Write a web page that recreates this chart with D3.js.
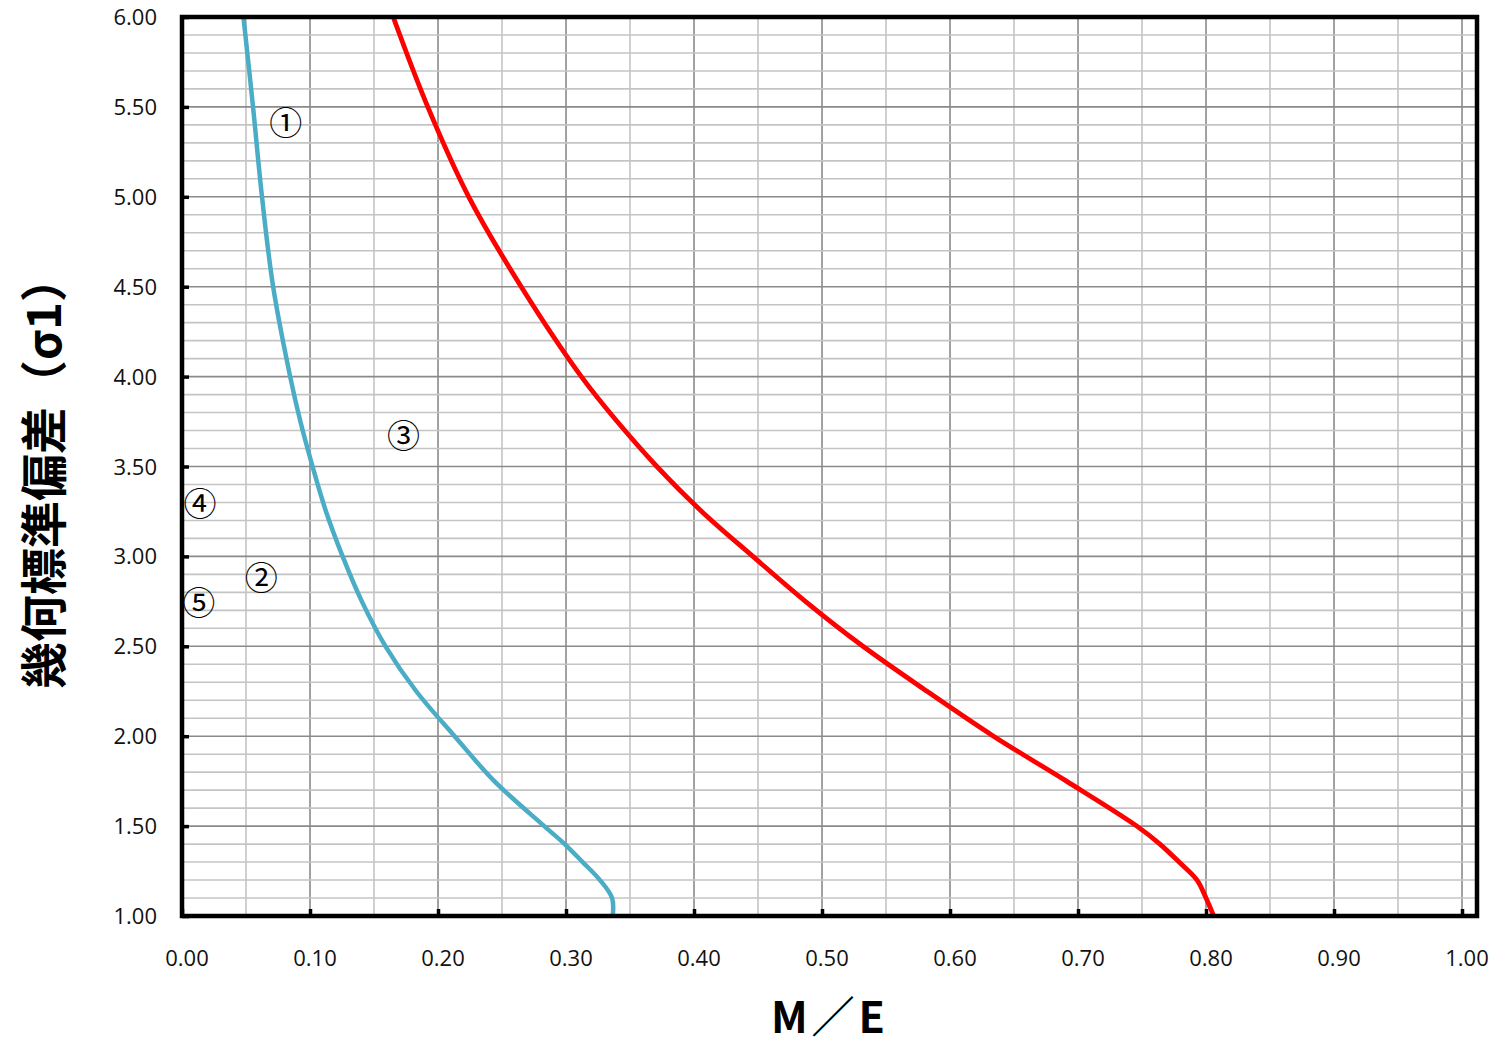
<!DOCTYPE html>
<html>
<head>
<meta charset="utf-8">
<script src="https://cdn.jsdelivr.net/npm/d3@7"></script>
<style>
  body { margin: 0; background: #fff; }
  text { font-family: "Open Sans", "Noto Sans", sans-serif; }
</style>
</head>
<body>
<svg id="chart" width="1499" height="1050"></svg>
<script>
// Data: sigma (geometric std. dev.) vs M/E
const sigma = [6.0, 5.5, 5.0, 4.5, 4.0, 3.75, 3.5, 3.25, 3.0, 2.75, 2.5, 2.25, 2.0, 1.75, 1.5, 1.4, 1.3, 1.2, 1.1, 1.0];
const curveBlue = [0.048, 0.0555, 0.0625, 0.0712, 0.0845, 0.0925, 0.102, 0.1125, 0.1255, 0.1405, 0.159, 0.183, 0.213, 0.244, 0.283, 0.299, 0.313, 0.3265, 0.336, 0.3365];
const curveRed = [0.165, 0.192, 0.224, 0.265, 0.312, 0.340, 0.371, 0.406, 0.446, 0.487, 0.532, 0.582, 0.634, 0.691, 0.746, 0.764, 0.779, 0.793, 0.800, 0.806];

// circled region labels (position in data units)
const regionLabels = ["①", "②", "③", "④", "⑤"];
const regionX = [0.081, 0.062, 0.173, 0.014, 0.013];
const regionY = [5.41, 2.88, 3.67, 3.29, 2.74];

const xTicks = d3.range(0, 1.0001, 0.1);
const yTicks = d3.range(1, 6.0001, 0.5);

const xTitle = "M／E";
const yTitle = "幾何標準偏差（σ1）";

// layout
const plotLeft = 182, plotTop = 17, plotBottom = 916, plotRight = 1477;
const xAt1 = 1462;

const svg = d3.select("#chart");

const x = d3.scaleLinear().domain([0, 1]).range([plotLeft, xAt1]);
const y = d3.scaleLinear().domain([1, 6]).range([plotBottom, plotTop]);

// grid
const grid = svg.append("g");
const vLines = d3.range(1, 21).map(i => i * 0.05);
grid.selectAll("line.v")
    .data(vLines)
    .join("line")
    .attr("class", "v")
    .attr("x1", d => x(d)).attr("x2", d => x(d))
    .attr("y1", plotTop).attr("y2", plotBottom)
    .attr("stroke", (d, i) => (i % 2 === 1) ? "#8a8a8a" : "#c4c4c4")
    .attr("stroke-width", 1.6);

const hLines = d3.range(1, 50).map(i => 1 + i * 0.1);
grid.selectAll("line.h")
    .data(hLines)
    .join("line")
    .attr("class", "h")
    .attr("x1", plotLeft).attr("x2", plotRight)
    .attr("y1", d => y(d)).attr("y2", d => y(d))
    .attr("stroke", (d, i) => ((i + 1) % 5 === 0) ? "#8a8a8a" : "#c4c4c4")
    .attr("stroke-width", 1.6);

// curves (smoothed like the spreadsheet line)
const line = d3.line()
    .x(d => x(d[0]))
    .y(d => y(d[1]))
    .curve(d3.curveCatmullRom.alpha(0.5));

svg.append("path")
    .datum(sigma.map((s, i) => [curveBlue[i], s]))
    .attr("d", line)
    .attr("fill", "none")
    .attr("stroke", "#4bacc6")
    .attr("stroke-width", 4.5);

svg.append("path")
    .datum(sigma.map((s, i) => [curveRed[i], s]))
    .attr("d", line)
    .attr("fill", "none")
    .attr("stroke", "#ff0000")
    .attr("stroke-width", 4.8);

// frame
svg.append("rect")
    .attr("x", plotLeft).attr("y", plotTop)
    .attr("width", plotRight - plotLeft).attr("height", plotBottom - plotTop)
    .attr("fill", "none")
    .attr("stroke", "#000")
    .attr("stroke-width", 4.5);

// axes (ticks inward)
const xAxis = d3.axisTop(x)
    .tickValues(xTicks)
    .tickSize(7)
    .tickFormat("");
svg.append("g")
    .attr("transform", `translate(0,${plotBottom})`)
    .call(xAxis)
    .call(g => g.select(".domain").remove())
    .call(g => g.selectAll(".tick line").attr("stroke", "#000").attr("stroke-width", 3.5));

const yAxis = d3.axisRight(y)
    .tickValues(yTicks)
    .tickSize(7)
    .tickFormat("");
svg.append("g")
    .attr("transform", `translate(${plotLeft},0)`)
    .call(yAxis)
    .call(g => g.select(".domain").remove())
    .call(g => g.selectAll(".tick line").attr("stroke", "#000").attr("stroke-width", 3.5));

// tick labels
svg.append("g").selectAll("text")
    .data(xTicks)
    .join("text")
    .attr("x", d => x(d) + 5)
    .attr("y", 966)
    .attr("text-anchor", "middle")
    .attr("font-size", 22)
    .attr("fill", "#111")
    .text(d => d.toFixed(2));

svg.append("g").selectAll("text")
    .data(yTicks)
    .join("text")
    .attr("x", 157)
    .attr("y", d => y(d) + 8)
    .attr("text-anchor", "end")
    .attr("font-size", 22)
    .attr("fill", "#111")
    .text(d => d.toFixed(2));

// region labels
svg.append("g").selectAll("text")
    .data(regionLabels)
    .join("text")
    .attr("x", (d, i) => x(regionX[i]))
    .attr("y", (d, i) => y(regionY[i]))
    .attr("dy", "0.36em")
    .attr("text-anchor", "middle")
    .style("font-family", "'Noto Sans CJK JP', sans-serif")
    .attr("font-size", 33)
    .attr("fill", "#000")
    .text(d => d);

// axis titles
svg.append("text")
    .attr("x", 830)
    .attr("y", 1033)
    .attr("text-anchor", "middle")
    .style("font-family", "'Noto Sans CJK JP', sans-serif")
    .attr("font-weight", "bold")
    .attr("font-size", 43)
    .attr("letter-spacing", 4)
    .text(xTitle);

svg.append("text")
    .attr("transform", "translate(61,472) rotate(-90)")
    .attr("text-anchor", "middle")
    .style("font-family", "'Noto Sans CJK JP', sans-serif")
    .attr("font-weight", "bold")
    .attr("font-size", 47)
    .text(yTitle);
</script>
</body>
</html>
